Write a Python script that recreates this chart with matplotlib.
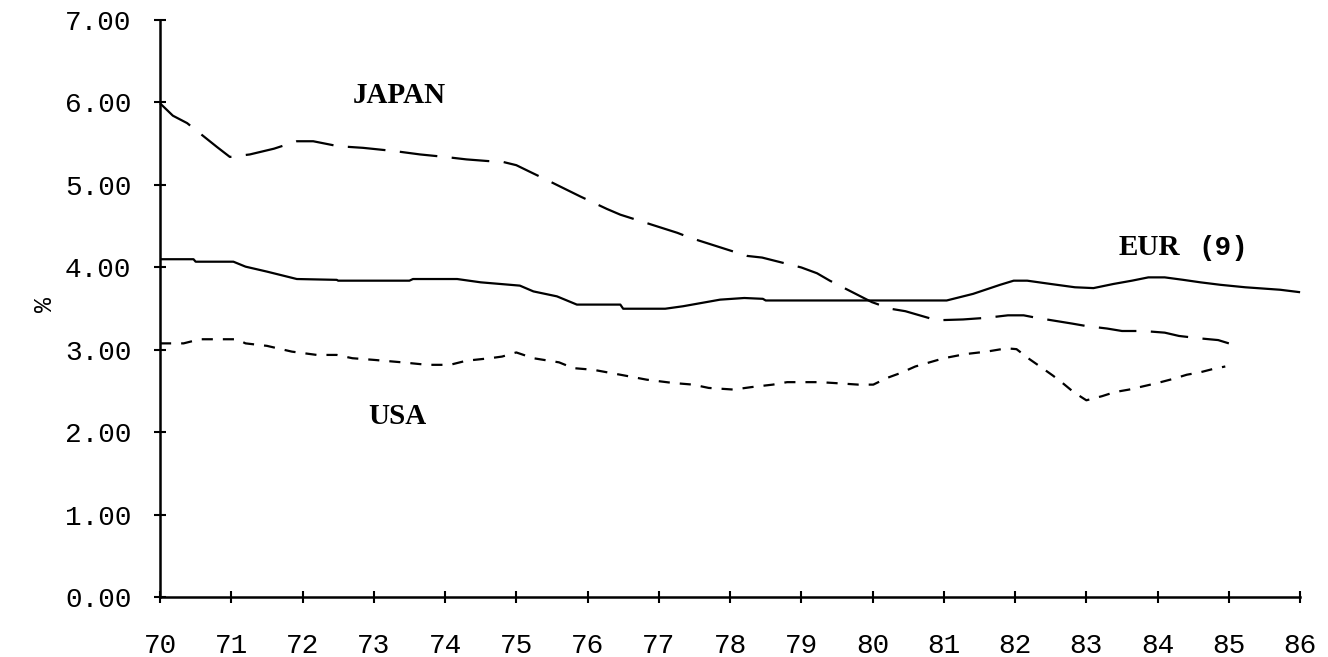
import matplotlib
matplotlib.use("Agg")
import matplotlib.pyplot as plt

eur_x = [70.0, 70.47, 70.5, 71.03, 71.2, 71.5, 71.92, 72.48, 72.5, 73.5, 73.55, 74.17, 74.5, 75.05,
         75.24, 75.57, 75.85, 76.46, 76.5, 77.09, 77.34, 77.6, 77.86, 78.2, 78.46, 78.5, 79.87,
         81.04, 81.41, 81.79, 81.98, 82.17, 82.5, 82.84, 83.1, 83.38, 83.64, 83.87, 84.1, 84.36,
         84.6, 84.88, 85.23, 85.72, 86.0]
eur_y = [4.10, 4.10, 4.07, 4.07, 4.01, 3.95, 3.86, 3.85, 3.84, 3.84, 3.86, 3.86, 3.82, 3.78,
         3.71, 3.65, 3.55, 3.55, 3.50, 3.50, 3.53, 3.57, 3.61, 3.63, 3.62, 3.60, 3.60,
         3.60, 3.68, 3.79, 3.84, 3.84, 3.80, 3.76, 3.75, 3.80, 3.84, 3.88, 3.88, 3.85,
         3.82, 3.79, 3.76, 3.73, 3.70]

japan_x = [70.0, 70.18, 70.38, 70.8, 70.98, 71.26, 71.6, 71.92, 72.15, 72.5, 72.85, 73.3, 73.65,
           74.0, 74.3, 74.6, 74.81, 75.0, 75.19, 75.43, 75.9, 76.27, 76.46, 77.26, 77.44, 78.24,
           78.45, 79.0, 79.22, 79.4, 79.99, 80.25, 80.46, 80.9, 81.27, 81.6, 81.9, 82.12, 82.3,
           82.8, 83.0, 83.29, 83.5, 83.8, 84.1, 84.3, 84.6, 84.85, 85.0]
japan_y = [5.99, 5.84, 5.75, 5.46, 5.34, 5.37, 5.44, 5.53, 5.53, 5.47, 5.45, 5.41, 5.37,
           5.34, 5.31, 5.29, 5.28, 5.24, 5.16, 5.06, 4.86, 4.71, 4.64, 4.42, 4.36, 4.14,
           4.12, 4.00, 3.93, 3.84, 3.58, 3.50, 3.47, 3.36, 3.37, 3.39, 3.42, 3.42, 3.39,
           3.32, 3.29, 3.26, 3.23, 3.23, 3.21, 3.17, 3.14, 3.12, 3.08]

usa_x = [70.0, 70.33, 70.56, 71.08, 71.2, 71.5, 71.85, 72.2, 72.48, 72.7, 73.0, 73.4, 73.75,
         74.07, 74.3, 74.63, 74.8, 75.0, 75.24, 75.6, 75.8, 76.08, 76.46, 76.83, 77.2, 77.48,
         77.7, 78.05, 78.3, 78.6, 78.8, 79.26, 79.45, 79.8, 80.01, 80.2, 80.39, 80.6, 81.0,
         81.3, 81.6, 81.88, 82.02, 82.2, 82.35, 82.53, 82.68, 82.82, 83.0, 83.22, 83.4, 83.6,
         83.75, 84.0, 84.22, 84.41, 84.6, 84.78, 84.95]
usa_y = [3.08, 3.08, 3.13, 3.13, 3.08, 3.05, 2.98, 2.94, 2.94, 2.90, 2.88, 2.85, 2.82,
         2.82, 2.87, 2.90, 2.92, 2.97, 2.90, 2.85, 2.78, 2.76, 2.70, 2.64, 2.60, 2.58,
         2.54, 2.52, 2.55, 2.58, 2.61, 2.61, 2.60, 2.58, 2.58, 2.66, 2.72, 2.80, 2.90,
         2.95, 2.98, 3.02, 3.01, 2.89, 2.80, 2.69, 2.59, 2.49, 2.39, 2.44, 2.49, 2.52,
         2.55, 2.60, 2.65, 2.70, 2.73, 2.77, 2.80]

xticks = list(range(70, 87))
yticks = [0, 1, 2, 3, 4, 5, 6, 7]
ytick_labels = ["%.2f" % v for v in yticks]

mono = "Liberation Mono"
serif = "Liberation Serif"

fig = plt.figure(figsize=(13.28, 6.57), dpi=100)
ax = fig.add_axes([0.1205, 0.0906, 0.979 - 0.1205, 0.9696 - 0.0906])

lw = 1.6
ax.plot(eur_x, eur_y, color="black", lw=lw, solid_capstyle="butt", clip_on=False)
ax.plot(japan_x, japan_y, color="black", lw=lw, dashes=(17, 6.5), clip_on=False)
ax.plot(usa_x, usa_y, color="black", lw=lw, dashes=(5, 4.5), clip_on=False)

ax.set_xlim(70, 86)
ax.set_ylim(0, 7)
ax.set_xticks(xticks)
ax.set_xticklabels([str(x) for x in xticks], fontfamily=mono, fontsize=20)
ax.set_yticks(yticks)
ax.set_yticklabels(ytick_labels, fontfamily=mono, fontsize=20)

for s in ["top", "right"]:
    ax.spines[s].set_visible(False)
for s in ["left", "bottom"]:
    ax.spines[s].set_linewidth(1.8)
    ax.spines[s].set_color("black")

ax.tick_params(axis="both", direction="inout", length=9, width=1.5, colors="black")
ax.tick_params(axis="x", pad=21)
ax.tick_params(axis="y", pad=16)

fig.text(45 / 1328, 1 - 305 / 657, "%", fontfamily=mono, fontsize=18,
         rotation=90, ha="center", va="center")

ax.text(72.71, 6.08, "JAPAN", fontfamily=serif, fontweight="bold", fontsize=21, ha="left", va="center")
ax.text(72.92, 2.19, "USA", fontfamily=serif, fontweight="bold", fontsize=21, ha="left", va="center")
ax.text(83.45, 4.24, "EUR", fontfamily=serif, fontweight="bold", fontsize=21, ha="left", va="center")
ax.text(84.57, 4.24, "(9)", fontfamily=mono, fontweight="bold", fontsize=20, ha="left", va="center")

fig.savefig("out.png", dpi=100)
